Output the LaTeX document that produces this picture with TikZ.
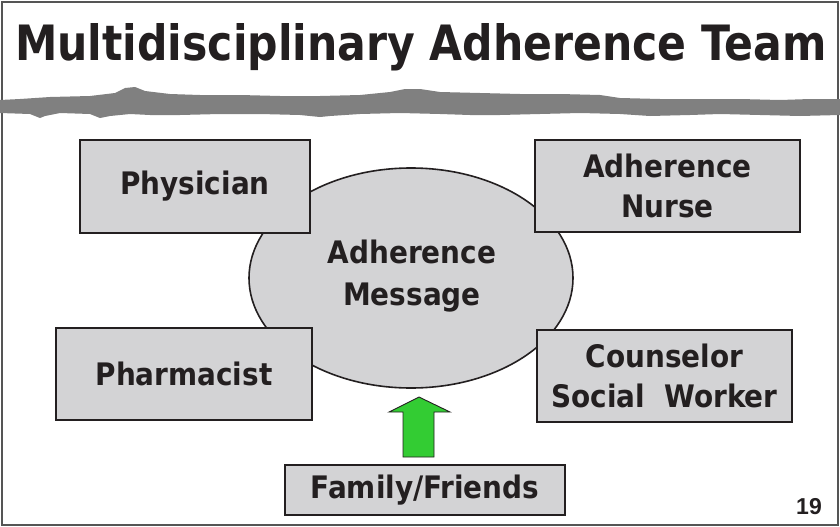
\documentclass[tikz,border=0pt]{standalone}
\usepackage{fontspec}
\usepackage{graphicx}
\usetikzlibrary{shapes.geometric}
\setmainfont{DejaVu Sans Condensed}
\newfontfamily\numfont{Liberation Sans}
\definecolor{boxgray}{HTML}{D3D3D5}
\definecolor{edge}{HTML}{231F20}
\definecolor{brush}{HTML}{808080}
\definecolor{arrowgreen}{HTML}{33CC33}
\definecolor{frame}{HTML}{555555}
\begin{document}
\begin{tikzpicture}[x=1pt,y=-1pt,
  rolebox/.style={draw=edge, fill=boxgray, line width=2.5pt, text=edge,
    font=\fontsize{31}{40}\selectfont\bfseries, align=center, inner sep=0pt},
  msgshape/.style={draw=edge, fill=boxgray, line width=1.6pt, ellipse, inner sep=0pt},
  greenarrow/.style={draw=edge, fill=arrowgreen, line width=0.9pt, line join=miter}
]
\useasboundingbox (0,0) rectangle (840,527);
% slide frame
\draw[frame, line width=2pt] (2,2) rectangle (838,525);
% title
\node[anchor=base west, inner sep=0pt, text=edge] (title) at (15,60)
  {\resizebox{811pt}{37pt}{\bfseries Multidisciplinary Adherence Team}};
% brush stroke
\fill[brush] (0,100) -- (20,99) -- (50,97) -- (90,96) -- (115,93) -- (125,88) -- (135,87)
  -- (145,91) -- (170,94) -- (200,95) -- (240,95) -- (280,96) -- (320,96) -- (360,95)
  -- (390,92) -- (405,89) -- (420,89) -- (440,92) -- (480,93) -- (520,94) -- (560,94)
  -- (600,95) -- (620,98) -- (660,99) -- (700,99) -- (740,99) -- (780,100) -- (810,99)
  -- (840,99) -- (840,115) -- (800,116) -- (760,115) -- (720,114) -- (690,115)
  -- (650,116) -- (620,114) -- (580,113) -- (540,114) -- (500,115) -- (470,115)
  -- (440,114) -- (400,113) -- (360,114) -- (330,116) -- (320,117) -- (300,115)
  -- (260,114) -- (220,114) -- (180,115) -- (150,115) -- (130,114) -- (110,116)
  -- (100,118) -- (90,114) -- (60,113) -- (45,116) -- (40,118) -- (30,114) -- (0,113) -- cycle;
% central ellipse
\node[msgshape, minimum width=324pt, minimum height=220pt] (msg) at (411,278) {};
\node[text=edge, font=\fontsize{31}{42}\selectfont\bfseries, align=center, inner sep=0pt]
  (msgtext) at (412,276) {Adherence\\Message};
% role boxes
\node[rolebox, minimum width=230pt, minimum height=93pt] (phys) at (195,186.5) {Physician};
\node[rolebox, minimum width=265pt, minimum height=92pt] (nurse) at (667.5,186) {Adherence\\Nurse};
\node[rolebox, minimum width=256pt, minimum height=92pt] (pharm) at (184,374) {Pharmacist};
\node[rolebox, minimum width=255pt, minimum height=92pt] (couns) at (664.5,376) {Counselor\\Social\ \ Worker};
\node[rolebox, minimum width=280pt, minimum height=50pt] (family) at (425,490) {Family/Friends};
% green arrow from family to message
\coordinate (tip) at (419,397);
\draw[greenarrow] (tip) -- (450,412) -- (434,412) -- (434,457) -- (403,457) -- (403,412) -- (389,412) -- cycle;
% page number
\node[text=edge, font=\numfont\bfseries\fontsize{23}{26}\selectfont, inner sep=0pt] (page) at (809,507) {19};
\end{tikzpicture}
\end{document}
